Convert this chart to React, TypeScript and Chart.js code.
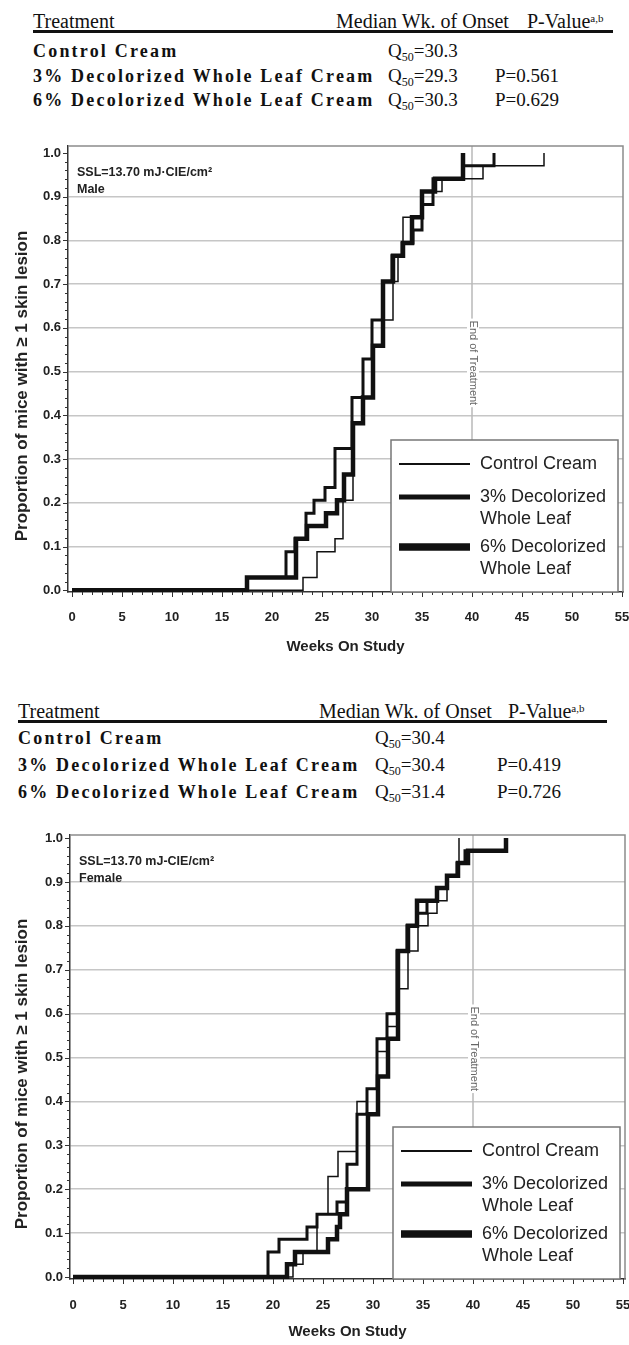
import React, { useEffect, useRef } from 'react';
import { Chart, registerables } from 'chart.js';

Chart.register(...registerables);

const SANS = '"Liberation Sans", Arial, sans-serif';
const SERIF = '"Liberation Serif", "Times New Roman", serif';

// ---------------- Data: Male panel ----------------
const maleControlWeeks = [0, 23.1, 24.5, 26.3, 27.1, 28.1, 29.2, 30.1, 31.1, 32.1, 32.6, 33.1, 35.1, 36.1, 37.0, 41.1, 47.2];
const maleControlProp = [0, 0.029, 0.088, 0.118, 0.206, 0.382, 0.441, 0.559, 0.618, 0.706, 0.765, 0.853, 0.882, 0.912, 0.941, 0.971, 1.0];
const male3Weeks = [0, 17.5, 21.4, 22.3, 23.4, 24.2, 25.3, 26.3, 28.0, 29.1, 30.0, 31.1, 32.0, 33.0, 34.1, 35.0, 36.1, 39.1, 42.2];
const male3Prop = [0, 0.029, 0.088, 0.118, 0.176, 0.206, 0.235, 0.324, 0.441, 0.529, 0.618, 0.706, 0.765, 0.794, 0.824, 0.882, 0.941, 0.971, 1.0];
const male6Weeks = [0, 17.5, 22.4, 23.5, 25.4, 26.5, 27.2, 28.1, 29.1, 30.1, 31.1, 32.1, 33.1, 34.0, 35.0, 36.3, 39.1];
const male6Prop = [0, 0.029, 0.118, 0.147, 0.176, 0.206, 0.265, 0.382, 0.441, 0.559, 0.706, 0.765, 0.794, 0.853, 0.912, 0.941, 1.0];

// ---------------- Data: Female panel ----------------
const femaleControlWeeks = [0, 22.0, 23.0, 24.4, 25.5, 26.5, 28.4, 29.4, 30.4, 31.4, 32.4, 33.5, 34.5, 35.5, 36.4, 37.4, 38.6];
const femaleControlProp = [0, 0.029, 0.057, 0.143, 0.229, 0.286, 0.4, 0.429, 0.514, 0.571, 0.657, 0.743, 0.8, 0.829, 0.857, 0.914, 1.0];
const female3Weeks = [0, 19.5, 20.6, 23.4, 24.4, 26.4, 27.4, 28.4, 29.4, 30.4, 31.4, 32.4, 33.4, 34.4, 35.4, 36.4, 37.4, 38.4, 39.2, 43.3];
const female3Prop = [0, 0.057, 0.086, 0.114, 0.143, 0.171, 0.257, 0.371, 0.429, 0.543, 0.6, 0.743, 0.8, 0.829, 0.857, 0.886, 0.914, 0.943, 0.971, 1.0];
const female6Weeks = [0, 21.4, 22.2, 25.5, 26.4, 26.7, 27.4, 29.5, 30.5, 31.5, 32.5, 33.5, 34.4, 36.4, 37.4, 38.5, 39.5, 43.3];
const female6Prop = [0, 0.029, 0.057, 0.086, 0.114, 0.143, 0.2, 0.371, 0.457, 0.543, 0.743, 0.8, 0.857, 0.886, 0.914, 0.943, 0.971, 1.0];

// ---------------- Text / labels ----------------
const treatmentNames = ['Control Cream', '3% Decolorized Whole Leaf Cream', '6% Decolorized Whole Leaf Cream'];
const maleMedians = ['30.3', '29.3', '30.3'];
const malePValues = ['', '0.561', '0.629'];
const femaleMedians = ['30.4', '30.4', '31.4'];
const femalePValues = ['', '0.419', '0.726'];
const legendLabels = [['Control Cream'], ['3% Decolorized', 'Whole Leaf'], ['6% Decolorized', 'Whole Leaf']];
const xTitle = 'Weeks On Study';
const yTitle = 'Proportion of mice with \u2265 1 skin lesion';
const endLabel = 'End of Treatment';
const endWeek = 40;

function stepPoints(weeks: number[], props: number[]) {
  const pts: { x: number; y: number }[] = [{ x: weeks[0], y: props[0] }];
  for (let i = 1; i < weeks.length; i++) {
    pts.push({ x: weeks[i], y: props[i - 1] });
    pts.push({ x: weeks[i], y: props[i] });
  }
  return pts;
}

const decorPlugin = {
  id: 'decor',
  beforeDatasetsDraw(chart: any, _args: any, opts: any) {
    const { ctx, chartArea: a, scales } = chart;
    const x = scales.x;
    const y = scales.y;
    ctx.save();
    const ex = x.getPixelForValue(opts.endWeek);
    ctx.strokeStyle = '#b8b8b8';
    ctx.lineWidth = 1.5;
    ctx.beginPath();
    ctx.moveTo(ex, a.top);
    ctx.lineTo(ex, a.bottom);
    ctx.stroke();
    const ty = y.getPixelForValue(opts.endLabelAt);
    ctx.translate(ex + 1, ty);
    ctx.rotate(Math.PI / 2);
    ctx.font = `11px ${SANS}`;
    const w = ctx.measureText(opts.endLabel).width;
    ctx.fillStyle = '#fff';
    ctx.fillRect(-w / 2 - 2, -6, w + 4, 12);
    ctx.fillStyle = '#666';
    ctx.textAlign = 'center';
    ctx.textBaseline = 'middle';
    ctx.fillText(opts.endLabel, 0, 0);
    ctx.restore();

    ctx.save();
    ctx.fillStyle = '#222';
    ctx.font = `bold 12.5px ${SANS}`;
    ctx.textAlign = 'left';
    ctx.textBaseline = 'middle';
    opts.inset.forEach((t: string, i: number) => {
      ctx.fillText(t, a.left + 9, a.top + 27 + i * 17);
    });
    ctx.restore();
  },
  afterDraw(chart: any, _args: any, opts: any) {
    const { ctx, chartArea: a, scales } = chart;
    const x = scales.x;
    const y = scales.y;
    ctx.save();
    // frame top/right
    ctx.strokeStyle = '#8c8c8c';
    ctx.lineWidth = 1.5;
    ctx.beginPath();
    ctx.moveTo(a.left, a.top);
    ctx.lineTo(a.right, a.top);
    ctx.lineTo(a.right, a.bottom);
    ctx.stroke();
    // ticks
    ctx.strokeStyle = '#333';
    ctx.lineWidth = 1;
    ctx.beginPath();
    for (let k = 0; k <= 50; k++) {
      const v = k * 0.02;
      const py = Math.round(y.getPixelForValue(v)) + 0.5;
      const len = k % 5 === 0 ? 5 : 3;
      ctx.moveTo(a.left, py);
      ctx.lineTo(a.left - len, py);
    }
    for (let wk = 0; wk <= 55; wk++) {
      const px = Math.round(x.getPixelForValue(wk)) + 0.5;
      const len = wk % 5 === 0 ? 5 : 3;
      ctx.moveTo(px, a.bottom);
      ctx.lineTo(px, a.bottom + len);
    }
    ctx.stroke();

    // y title
    ctx.save();
    ctx.translate(opts.yTitleX, (a.top + a.bottom) / 2 + opts.yTitleShift);
    ctx.rotate(-Math.PI / 2);
    ctx.font = `bold 17px ${SANS}`;
    ctx.fillStyle = '#222';
    ctx.textAlign = 'center';
    ctx.textBaseline = 'middle';
    ctx.fillText(opts.yTitle, 0, 0);
    ctx.restore();

    // legend
    const bl = a.left + 323;
    const br = a.right - 5;
    const bt = a.bottom - 152;
    const bb = a.bottom;
    ctx.fillStyle = '#fff';
    ctx.fillRect(bl, bt, br - bl, bb - bt);
    ctx.strokeStyle = '#777';
    ctx.lineWidth = 1.5;
    ctx.strokeRect(bl, bt, br - bl, bb - bt);
    const offs = [24, 57, 107];
    const widths = [2, 5, 7.5];
    ctx.font = `18px ${SANS}`;
    ctx.textAlign = 'left';
    ctx.textBaseline = 'middle';
    opts.legend.forEach((lines: string[], i: number) => {
      const ly = bt + offs[i];
      ctx.strokeStyle = '#111';
      ctx.lineWidth = widths[i];
      ctx.beginPath();
      ctx.moveTo(bl + 8, ly);
      ctx.lineTo(bl + 79, ly);
      ctx.stroke();
      ctx.fillStyle = '#222';
      lines.forEach((t, j) => ctx.fillText(t, bl + 89, ly + j * 22));
    });
    ctx.restore();
  },
};

type PanelSpec = {
  canvasTop: number;
  canvasHeight: number;
  yAxisW: number;
  padTop: number;
  padRight: number;
  xAxisH: number;
  xMin: number;
  xMax: number;
  yMin: number;
  yMax: number;
  xTickPad: number;
  xTitlePadBottom: number;
  inset: string[];
  series: { weeks: number[]; props: number[]; width: number; name: string }[];
};

function ChartPanel({ spec }: { spec: PanelSpec }) {
  const ref = useRef<HTMLCanvasElement | null>(null);
  useEffect(() => {
    if (!ref.current) return;
    const s = spec;
    const datasets = s.series.map((ser) => ({
      label: ser.name,
      data: stepPoints(ser.weeks, ser.props),
      borderColor: '#111',
      backgroundColor: '#111',
      borderWidth: ser.width,
      pointRadius: 0,
      fill: false,
      tension: 0,
      borderJoinStyle: 'miter',
      borderCapStyle: 'butt',
    }));
    const tickFont = { family: SANS, weight: 'bold' as const, size: 13 };
    const chart = new Chart(ref.current, {
      type: 'line',
      data: { datasets: datasets as any },
      options: {
        animation: false,
        responsive: false,
        maintainAspectRatio: false,
        layout: { padding: { top: s.padTop, right: s.padRight, left: 0, bottom: 0 } },
        plugins: {
          legend: { display: false },
          tooltip: { enabled: false },
          decor: {
            endWeek,
            endLabel,
            endLabelAt: 0.52,
            inset: s.inset,
            legend: legendLabels,
            yTitle,
            yTitleX: 22,
            yTitleShift: 17,
          },
        } as any,
        scales: {
          x: {
            type: 'linear',
            min: s.xMin,
            max: s.xMax,
            afterFit: (sc: any) => {
              sc.height = s.xAxisH;
              sc.paddingLeft = 0;
              sc.paddingRight = 0;
            },
            ticks: {
              stepSize: 5,
              includeBounds: false,
              autoSkip: false,
              maxRotation: 0,
              padding: s.xTickPad,
              font: tickFont,
              color: '#222',
              callback: (v: any) => String(Math.round(Number(v))),
            },
            grid: { display: false, drawTicks: false },
            border: { display: true, color: '#333', width: 1.5 },
            title: {
              display: true,
              text: xTitle,
              font: { family: SANS, weight: 'bold', size: 15 },
              color: '#222',
              padding: { top: 0, bottom: s.xTitlePadBottom },
            },
          },
          y: {
            type: 'linear',
            min: s.yMin,
            max: s.yMax,
            afterFit: (sc: any) => {
              sc.width = s.yAxisW;
              sc.paddingTop = 0;
              sc.paddingBottom = 0;
            },
            ticks: {
              stepSize: 0.1,
              includeBounds: false,
              autoSkip: false,
              padding: 7,
              font: tickFont,
              color: '#222',
              callback: (v: any) => Number(v).toFixed(1),
            },
            grid: {
              drawTicks: false,
              lineWidth: 1.5,
              color: (c: any) =>
                c.tick && c.tick.value > 0.05 && c.tick.value < 0.95 ? '#c6c6c6' : 'rgba(0,0,0,0)',
            },
            border: { display: true, color: '#333', width: 1.5 },
          },
        },
      },
      plugins: [decorPlugin as any],
    });
    return () => chart.destroy();
  }, [spec]);
  return (
    <canvas
      ref={ref}
      width={629}
      height={spec.canvasHeight}
      style={{ position: 'absolute', left: 0, top: spec.canvasTop, width: 629, height: spec.canvasHeight }}
    />
  );
}

type HeaderSpec = {
  headerCenter: number;
  lineTop: number;
  rows: number[];
  left: number;
  medianHeadLeft: number;
  pHeadLeft: number;
  qLeft: number;
  pLeft: number;
  lineRight: number;
  medians: string[];
  pvals: string[];
};

function TextAt({ left, center, children, style }: any) {
  return (
    <div
      style={{
        position: 'absolute',
        left,
        top: center - 11,
        height: 22,
        lineHeight: '22px',
        whiteSpace: 'nowrap',
        color: '#111',
        ...style,
      }}
    >
      {children}
    </div>
  );
}

function Header({ h }: { h: HeaderSpec }) {
  const headStyle = { fontFamily: SERIF, fontSize: 20 };
  const nameStyle = { fontFamily: SERIF, fontSize: 18, fontWeight: 'bold', letterSpacing: '2.2px' };
  const valStyle = { fontFamily: SERIF, fontSize: 19 };
  return (
    <>
      <TextAt left={h.left} center={h.headerCenter} style={headStyle}>
        Treatment
      </TextAt>
      <TextAt left={h.medianHeadLeft} center={h.headerCenter} style={headStyle}>
        Median Wk. of Onset
      </TextAt>
      <TextAt left={h.pHeadLeft} center={h.headerCenter} style={headStyle}>
        P-Value<sup style={{ fontSize: 11, verticalAlign: '6px', lineHeight: 0 }}>a,b</sup>
      </TextAt>
      <div
        style={{
          position: 'absolute',
          left: h.left,
          top: h.lineTop,
          width: h.lineRight - h.left,
          height: 2.5,
          background: '#111',
        }}
      />
      {treatmentNames.map((n, i) => (
        <React.Fragment key={n}>
          <TextAt left={h.left} center={h.rows[i]} style={nameStyle}>
            {n}
          </TextAt>
          <TextAt left={h.qLeft} center={h.rows[i]} style={valStyle}>
            Q<sub style={{ fontSize: 12, verticalAlign: '-4px', lineHeight: 0 }}>50</sub>={h.medians[i]}
          </TextAt>
          {h.pvals[i] ? (
            <TextAt left={h.pLeft} center={h.rows[i]} style={valStyle}>
              P={h.pvals[i]}
            </TextAt>
          ) : null}
        </React.Fragment>
      ))}
    </>
  );
}

const maleHeader: HeaderSpec = {
  headerCenter: 21,
  lineTop: 30,
  rows: [51, 76, 100],
  left: 33,
  medianHeadLeft: 336,
  pHeadLeft: 527,
  qLeft: 388,
  pLeft: 495,
  lineRight: 613,
  medians: maleMedians,
  pvals: malePValues,
};

const femaleHeader: HeaderSpec = {
  headerCenter: 711,
  lineTop: 720,
  rows: [738, 765, 792],
  left: 18,
  medianHeadLeft: 319,
  pHeadLeft: 508,
  qLeft: 375,
  pLeft: 497,
  lineRight: 607,
  medians: femaleMedians,
  pvals: femalePValues,
};

const maleSpec: PanelSpec = {
  canvasTop: 120,
  canvasHeight: 550,
  yAxisW: 68,
  padTop: 26,
  padRight: 6,
  xAxisH: 78,
  xMin: -0.4,
  xMax: 55.1,
  yMin: -0.004,
  yMax: 1.016,
  xTickPad: 18,
  xTitlePadBottom: 14,
  inset: ['SSL=13.70 mJ\u00b7CIE/cm\u00b2', 'Male'],
  series: [
    { name: treatmentNames[0], weeks: maleControlWeeks, props: maleControlProp, width: 1.5 },
    { name: treatmentNames[1], weeks: male3Weeks, props: male3Prop, width: 3 },
    { name: treatmentNames[2], weeks: male6Weeks, props: male6Prop, width: 4.5 },
  ],
};

const femaleSpec: PanelSpec = {
  canvasTop: 810,
  canvasHeight: 535,
  yAxisW: 70,
  padTop: 25,
  padRight: 4,
  xAxisH: 66,
  xMin: -0.3,
  xMax: 55.2,
  yMin: -0.0045,
  yMax: 1.007,
  xTickPad: 19,
  xTitlePadBottom: 4,
  inset: ['SSL=13.70 mJ-CIE/cm\u00b2', 'Female'],
  series: [
    { name: treatmentNames[0], weeks: femaleControlWeeks, props: femaleControlProp, width: 1.5 },
    { name: treatmentNames[1], weeks: female3Weeks, props: female3Prop, width: 3 },
    { name: treatmentNames[2], weeks: female6Weeks, props: female6Prop, width: 4.5 },
  ],
};

export default function App() {
  return (
    <div
      style={{
        position: 'absolute',
        left: 0,
        top: 0,
        width: 629,
        height: 1345,
        background: '#fff',
        overflow: 'hidden',
      }}
    >
      <Header h={maleHeader} />
      <ChartPanel spec={maleSpec} />
      <Header h={femaleHeader} />
      <ChartPanel spec={femaleSpec} />
    </div>
  );
}
